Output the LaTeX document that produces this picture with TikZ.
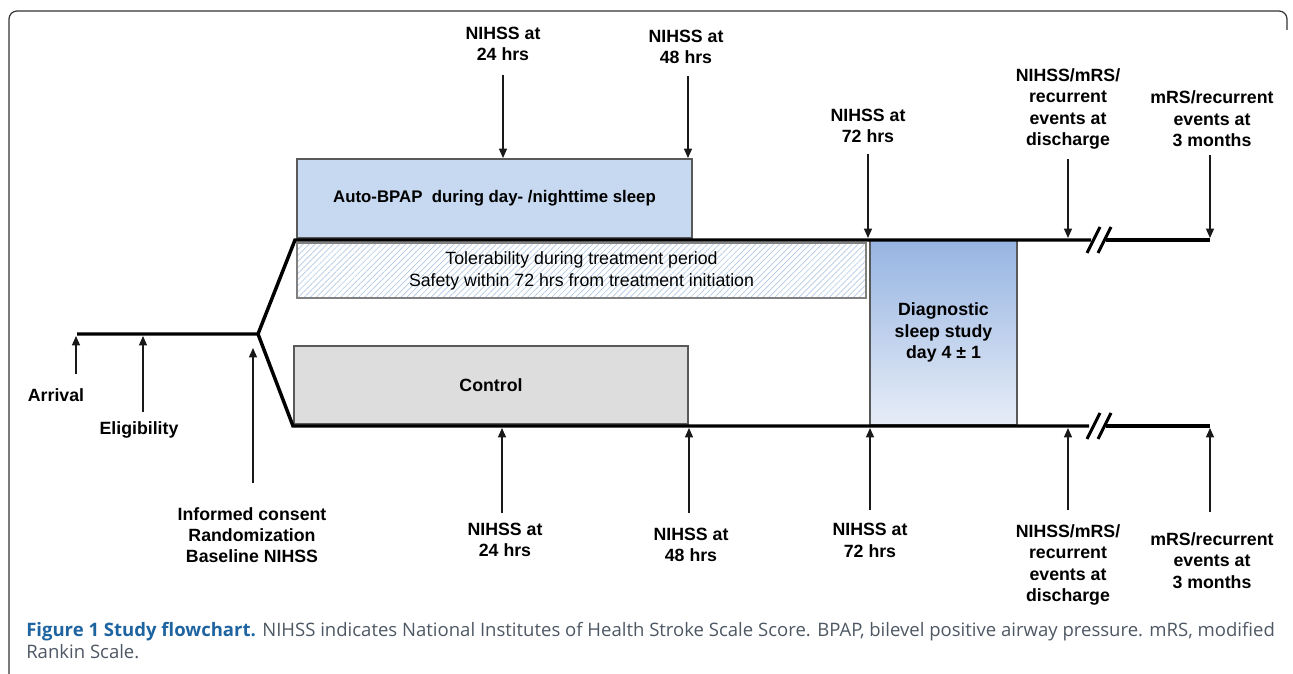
\documentclass[tikz,border=0pt]{standalone}
\usepackage{fontspec}
\setmainfont{Liberation Sans}
\newfontfamily\capfont{Open Sans}
\usepackage{xcolor}
\definecolor{bpapblue}{RGB}{198,217,241}
\definecolor{hatchblue}{RGB}{178,200,228}
\definecolor{ctrlgray}{RGB}{221,221,221}
\definecolor{diagtop}{RGB}{150,180,226}
\definecolor{diagbot}{RGB}{231,237,247}
\definecolor{capblue}{RGB}{30,100,160}
\definecolor{capgray}{RGB}{78,88,100}
\usetikzlibrary{arrows.meta, positioning, patterns.meta}

\begin{document}
\begin{tikzpicture}[
    x=0.75pt, y=-0.75pt,
    lbl/.style={align=center, inner sep=0pt, font=\fontsize{13.3}{16}\selectfont\bfseries},
    box/.style={rectangle, draw=black!65, line width=0.8pt, inner sep=0pt, align=center},
    track/.style={line width=2.6pt, black},
    brk/.style={line width=2.2pt, black},
    tick/.style={-{Triangle[length=7pt,width=6pt]}, line width=0.9pt, black!90}
]
\useasboundingbox (0,0) rectangle (1293,674);

% frame
\draw[black!80, line width=0.9pt, rounded corners=6pt] (9,674) -- (9,11) -- (1287,11) -- (1287,30);

% boxes
\node[box, fill=bpapblue, minimum width=296.25pt, minimum height=59.25pt, font=\fontsize{12.6}{16}\selectfont\bfseries] (bpap) at (494.5,198.5) {Auto-BPAP\ \ during day- /nighttime sleep};
\node[box, draw=black!50, pattern={Lines[angle=45,distance=3.2pt,line width=0.5pt]}, pattern color=hatchblue, minimum width=426.75pt, minimum height=41.25pt, font=\fontsize{13.3}{16.5}\selectfont] (tol) at (581.5,270.5) {Tolerability during treatment period\\Safety within 72 hrs from treatment initiation};
\node[box, fill=ctrlgray, minimum width=295.5pt, minimum height=58.5pt, font=\fontsize{13.3}{16}\selectfont\bfseries] (ctrl) at (491,385) {Control};
\node[box, top color=diagtop, bottom color=diagbot, minimum width=110.25pt, minimum height=138.75pt, font=\fontsize{13.3}{16}\selectfont\bfseries] (diag) at (943.5,332.5) {Diagnostic\\sleep study\\day 4 ± 1};

% timelines
\coordinate (start) at (77,334);
\coordinate (split) at (258,334);
\coordinate (upL) at (295,240);
\coordinate (loL) at (293,426);
\coordinate (upB1) at (1091,240);
\coordinate (upB2) at (1106,240);
\coordinate (upR) at (1210,240);
\coordinate (loB1) at (1089,426);
\coordinate (loB2) at (1106,426);
\coordinate (loR) at (1210,426);
\draw[track] (start) -- (split) -- (upL) -- (upB1);
\draw[track] (upB2) -- (upR);
\draw[track] (split) -- (loL) -- (loB1);
\draw[track] (loB2) -- (loR);
\foreach \y in {240,426}
  \foreach \dx in {0,11}
    \draw[brk] (1087+\dx,\y+13) -- (1100+\dx,\y-13);

% arrow tips
\coordinate (tArr) at (76,336);
\coordinate (tElig) at (143,336);
\coordinate (tCons) at (253,348);
\coordinate (t24) at (503,158);
\coordinate (t48) at (688,158);
\coordinate (t72) at (868,238);
\coordinate (tDis) at (1068,238);
\coordinate (t3m) at (1210,238);
\coordinate (b24) at (502,428);
\coordinate (b48) at (689,428);
\coordinate (b72) at (870,428);
\coordinate (bDis) at (1068,428);
\coordinate (b3m) at (1210,428);

% labels
\node[lbl] (arrival) at (56,395) {Arrival};
\node[lbl] (elig) at (139,430) {Eligibility};
\node[lbl] (consent) at (252,535) {Informed consent\\Randomization\\Baseline NIHSS};
\node[lbl] (top24) at (503,44) {NIHSS at\\24 hrs};
\node[lbl] (top48) at (686,47) {NIHSS at\\48 hrs};
\node[lbl] (top72) at (868,126) {NIHSS at\\72 hrs};
\node[lbl] (topDis) at (1068,109) {NIHSS/mRS/\\recurrent\\events at\\discharge};
\node[lbl] (top3m) at (1212,119) {mRS/recurrent\\events at\\3 months};
\node[lbl] (bot24) at (505,540) {NIHSS at\\24 hrs};
\node[lbl] (bot48) at (691,545) {NIHSS at\\48 hrs};
\node[lbl] (bot72) at (870,540.5) {NIHSS at\\72 hrs};
\node[lbl] (botDis) at (1068,565) {NIHSS/mRS/\\recurrent\\events at\\discharge};
\node[lbl] (bot3m) at (1212,560.5) {mRS/recurrent\\events at\\3 months};

% arrows
\draw[tick, shorten <=11pt] (tArr |- arrival.north) -- (tArr);
\draw[tick, shorten <=7pt] (tElig |- elig.north) -- (tElig);
\draw[tick, shorten <=18pt] (tCons |- consent.north) -- (tCons);
\draw[tick, shorten <=10pt] (t24 |- top24.south) -- (t24);
\draw[tick, shorten <=9pt] (t48 |- top48.south) -- (t48);
\draw[tick, shorten <=8pt] (t72 |- top72.south) -- (t72);
\draw[tick, shorten <=7pt] (tDis |- topDis.south) -- (tDis);
\draw[tick, shorten <=6pt] (t3m |- top3m.south) -- (t3m);
\draw[tick, shorten <=7pt] (b24 |- bot24.north) -- (b24);
\draw[tick, shorten <=11pt] (b48 |- bot48.north) -- (b48);
\draw[tick, shorten <=10pt] (b72 |- bot72.north) -- (b72);
\draw[tick, shorten <=11pt] (bDis |- botDis.north) -- (bDis);
\draw[tick, shorten <=15pt] (b3m |- bot3m.north) -- (b3m);

% caption
\node[anchor=north west, inner sep=0pt, align=left, text=capgray, font=\capfont\fontsize{13.9}{16.5}\selectfont] (caption) at (26,622)
  {\textcolor{capblue}{\bfseries Figure 1 Study flowchart.} NIHSS indicates National Institutes of Health Stroke Scale Score. BPAP, bilevel positive airway pressure. mRS, modified\\Rankin Scale.};
\end{tikzpicture}
\end{document}
